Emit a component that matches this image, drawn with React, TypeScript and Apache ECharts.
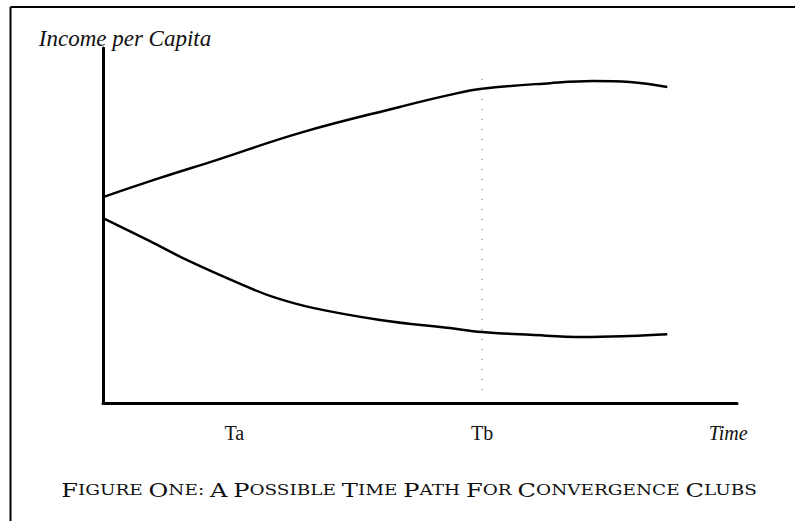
import React, { useEffect, useRef } from "react";
import * as echarts from "echarts";

// Data (x: 0..100 time scale, y: 0..100 income scale)
const upperX = [0, 9.0, 18.0, 31.1, 46.8, 54.7, 59.8, 70.5, 77.3, 83.1, 89.0];
const upperY = [58.0, 63.4, 68.5, 76.1, 83.4, 86.8, 88.5, 90.1, 90.7, 90.4, 89.0];
const lowerX = [0, 7.4, 13.2, 22.1, 26.8, 33.1, 43.7, 54.7, 59.8, 67.4, 75.7, 83.1, 89.0];
const lowerY = [52.1, 45.6, 40.3, 33.2, 29.9, 26.8, 23.4, 21.1, 20.0, 19.2, 18.6, 18.9, 19.4];
const tbLineX = [59.8, 59.8];
const tbLineY = [91.3, 3.7];
const tickValues = [20.7, 59.8, 98.6];
const tickLabels = ["Ta", "Tb", "Time"];
const yAxisTitle = "Income per Capita";
const caption = "Figure One: A Possible Time Path for Convergence Clubs";

const zip = (xs: number[], ys: number[]) => xs.map((x, i) => [x, ys[i]]);

function smallCaps(s: string): string {
  return s
    .split(" ")
    .map((w) => {
      const first = w.charAt(0).toUpperCase();
      const rest = w.slice(1).toUpperCase();
      return `{b|${first}}` + (rest ? `{s|${rest}}` : "");
    })
    .join("{s| }");
}

export default function App() {
  const ref = useRef<HTMLDivElement>(null);
  useEffect(() => {
    if (!ref.current) return;
    const chart = echarts.init(ref.current, undefined, { renderer: "svg" });
    const serif = "'Liberation Serif', 'DejaVu Serif', serif";
    const capSerif = "'DejaVu Serif', 'Liberation Serif', serif";
    chart.setOption({
      animation: false,
      backgroundColor: "#ffffff",
      grid: { left: 103, right: 58, top: 48, bottom: 118 },
      xAxis: {
        type: "value",
        min: 0,
        max: 100,
        axisLine: { show: true, lineStyle: { color: "#000", width: 3 } },
        axisTick: { show: false },
        splitLine: { show: false },
        axisLabel: {
          customValues: tickValues,
          margin: 20,
          fontFamily: serif,
          fontSize: 20,
          color: "#111",
          formatter: (v: number) => {
            const i = tickValues.findIndex((t) => Math.abs(t - v) < 0.01);
            const t = i >= 0 ? tickLabels[i] : "";
            return t === "Time" ? `{it|${t}}` : t;
          },
          rich: {
            it: { fontStyle: "italic", fontFamily: serif, fontSize: 20, color: "#111" },
          },
        },
      },
      yAxis: {
        type: "value",
        min: 0,
        max: 100,
        name: yAxisTitle,
        nameLocation: "end",
        nameGap: -2,
        nameTextStyle: {
          fontFamily: serif,
          fontStyle: "italic",
          fontSize: 23,
          color: "#111",
          align: "center",
          padding: [0, 0, 0, 44],
        },
        axisLine: { show: true, lineStyle: { color: "#000", width: 3 } },
        axisTick: { show: false },
        axisLabel: { show: false },
        splitLine: { show: false },
      },
      series: [
        {
          type: "line",
          data: zip(upperX, upperY),
          smooth: 0.4,
          showSymbol: false,
          lineStyle: { color: "#000", width: 2.5 },
        },
        {
          type: "line",
          data: zip(lowerX, lowerY),
          smooth: 0.4,
          showSymbol: false,
          lineStyle: { color: "#000", width: 2.5 },
        },
        {
          type: "line",
          data: zip(tbLineX, tbLineY),
          showSymbol: false,
          lineStyle: { color: "#666", width: 1, type: [1, 9] },
        },
      ],
      graphic: [
        {
          type: "line",
          shape: { x1: 10.5, y1: 7, x2: 795, y2: 7 },
          style: { stroke: "#000", lineWidth: 2 },
        },
        {
          type: "line",
          shape: { x1: 10.5, y1: 7, x2: 10.5, y2: 521 },
          style: { stroke: "#000", lineWidth: 2 },
        },
        {
          type: "text",
          x: 409,
          y: 490,
          scaleX: 1.27,
          style: {
            text: smallCaps(caption),
            align: "center",
            verticalAlign: "middle",
            rich: {
              b: { fontFamily: capSerif, fontSize: 19, fill: "#111" },
              s: { fontFamily: capSerif, fontSize: 14.5, fill: "#111" },
            },
          },
        },
      ],
    });
    return () => chart.dispose();
  }, []);
  return (
    <div
      ref={ref}
      style={{ position: "fixed", left: 0, top: 0, width: 795, height: 521, background: "#fff" }}
    />
  );
}
